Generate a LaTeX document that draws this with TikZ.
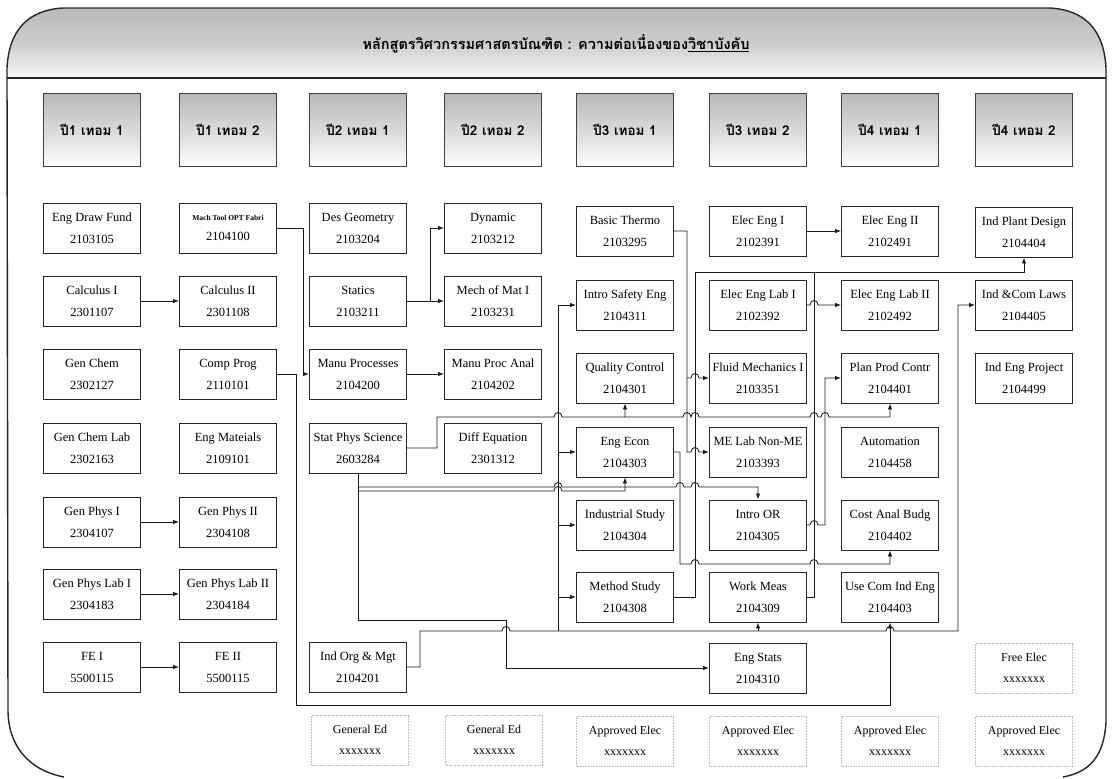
\documentclass[tikz,border=0pt]{standalone}
\usepackage{fontspec}
\setmainfont{Liberation Serif}
\newfontfamily\thaifont[Script=Thai]{Loma}
\usetikzlibrary{arrows.meta}
% small upward bump where a horizontal line crosses a vertical one
\newcommand\hopup[2]{-- ({#1-4},#2) .. controls ({#1-4},{#2-6}) and ({#1+4},{#2-6}) .. ({#1+4},#2)}
\begin{document}
\begin{tikzpicture}[x=1pt,y=-1pt,
  frame/.style={line width=1.4pt,black!85},
  hdr/.style={draw=black!75,line width=0.9pt,top color=gray!55,bottom color=white,
    middle color=gray!30,minimum width=97pt,minimum height=73pt,inner sep=0pt,
    font=\thaifont\bfseries\fontsize{13.5}{16}\selectfont},
  course/.style={draw=black!85,line width=0.9pt,fill=white,minimum width=97pt,
    minimum height=50pt,inner sep=0pt,align=center,font=\fontsize{12.5}{22}\selectfont},
  elective/.style={draw=gray!55,densely dotted,line width=0.6pt,minimum width=97pt,
    minimum height=50pt,inner sep=0pt,align=center,font=\fontsize{12}{21}\selectfont},
  conn/.style={line width=0.85pt,black!90},
  arr/.style={conn,-{Latex[length=6pt,width=4.5pt]}}]
\useasboundingbox (0,0) rectangle (1112,779);

% title band
\fill[top color=gray!55,bottom color=gray!5,middle color=gray!40]
  (7,78) -- (7,68) .. controls (9,30) and (28,10) .. (63,8) -- (1050,8)
  .. controls (1085,10) and (1104,30) .. (1106,68) -- (1106,78) -- cycle;
\draw[frame] (64,777) .. controls (28,770) and (8,745) .. (8,710) -- (7,68)
  .. controls (9,30) and (28,10) .. (63,8) -- (1050,8)
  .. controls (1085,10) and (1104,30) .. (1106,68) -- (1106,722)
  .. controls (1104,756) and (1090,772) .. (1063,777);
\draw[frame] (7,78) -- (1106,78);
\node[font=\thaifont\bfseries\fontsize{14.5}{17}\selectfont] (title) at (556,44)
  {หลักสูตรวิศวกรรมศาสตรบัณฑิต : ความต่อเนื่องของ\underline{วิชาบังคับ}};

% semester headers
\node[hdr] (h1) at (92,130) {ปี1 เทอม 1};
\node[hdr] (h2) at (228,130) {ปี1 เทอม 2};
\node[hdr] (h3) at (358,130) {ปี2 เทอม 1};
\node[hdr] (h4) at (493,130) {ปี2 เทอม 2};
\node[hdr] (h5) at (625,130) {ปี3 เทอม 1};
\node[hdr] (h6) at (758,130) {ปี3 เทอม 2};
\node[hdr] (h7) at (890,130) {ปี4 เทอม 1};
\node[hdr] (h8) at (1024,130) {ปี4 เทอม 2};

% year 1
\node[course] (engdraw) at (92,228) {Eng Draw Fund\\2103105};
\node[course] (calc1) at (92,301) {Calculus I\\2301107};
\node[course] (genchem) at (92,374) {Gen Chem\\2302127};
\node[course] (genchemlab) at (92,448) {Gen Chem Lab\\2302163};
\node[course] (genphys1) at (92,522) {Gen Phys I\\2304107};
\node[course] (genphyslab1) at (92,594) {Gen Phys Lab I\\2304183};
\node[course] (fe1) at (92,667) {FE I\\5500115};
\node[course] (mach) at (228,228) {{\bfseries\fontsize{7.5}{9}\selectfont Mach Tool OPT Fabri}\\[-2pt]2104100};
\node[course] (calc2) at (228,301) {Calculus II\\2301108};
\node[course] (compprog) at (228,374) {Comp Prog\\2110101};
\node[course] (engmat) at (228,448) {Eng Mateials\\2109101};
\node[course] (genphys2) at (228,522) {Gen Phys II\\2304108};
\node[course] (genphyslab2) at (228,594) {Gen Phys Lab II\\2304184};
\node[course] (fe2) at (228,667) {FE II\\5500115};

% year 2
\node[course] (desgeo) at (358,228) {Des Geometry\\2103204};
\node[course] (statics) at (358,301) {Statics\\2103211};
\node[course] (manu) at (358,374) {Manu Processes\\2104200};
\node[course] (statphys) at (358,448) {Stat Phys Science\\2603284};
\node[course] (indorg) at (358,667) {Ind Org \& Mgt\\2104201};
\node[course] (dynamic) at (493,228) {Dynamic\\2103212};
\node[course] (mechmat) at (493,301) {Mech of Mat I\\2103231};
\node[course] (manuanal) at (493,374) {Manu Proc Anal\\2104202};
\node[course] (diffeq) at (493,448) {Diff Equation\\2301312};

% year 3
\node[course] (basicthermo) at (625,231) {Basic Thermo\\2103295};
\node[course] (introsafety) at (625,305) {Intro Safety Eng\\2104311};
\node[course] (quality) at (625,378) {Quality Control\\2104301};
\node[course] (engecon) at (625,452) {Eng Econ\\2104303};
\node[course] (industrial) at (625,525) {Industrial Study\\2104304};
\node[course] (method) at (625,597) {Method Study\\2104308};
\node[course] (elec1) at (758,231) {Elec Eng I\\2102391};
\node[course] (eleclab1) at (758,305) {Elec Eng Lab I\\2102392};
\node[course] (fluid) at (758,378) {Fluid Mechanics I\\2103351};
\node[course] (melab) at (758,452) {ME Lab Non-ME\\2103393};
\node[course] (introor) at (758,525) {Intro OR\\2104305};
\node[course] (workmeas) at (758,597) {Work Meas\\2104309};
\node[course] (engstats) at (758,668) {Eng Stats\\2104310};

% year 4
\node[course] (elec2) at (890,231) {Elec Eng II\\2102491};
\node[course] (eleclab2) at (890,305) {Elec Eng Lab II\\2102492};
\node[course] (planprod) at (890,378) {Plan Prod Contr\\2104401};
\node[course] (automation) at (890,452) {Automation\\2104458};
\node[course] (costanal) at (890,525) {Cost Anal Budg\\2104402};
\node[course] (usecom) at (890,597) {Use Com Ind Eng\\2104403};
\node[course] (ipd) at (1024,232) {Ind Plant Design\\2104404};
\node[course] (indcom) at (1024,305) {Ind \&Com Laws\\2104405};
\node[course] (indengproj) at (1024,378) {Ind Eng Project\\2104499};

% electives
\node[elective] (freeelec) at (1024,668) {Free Elec\\xxxxxxx};
\node[elective] (gened1) at (360,740) {General Ed\\xxxxxxx};
\node[elective] (gened2) at (494,740) {General Ed\\xxxxxxx};
\node[elective] (appr1) at (625,741) {Approved Elec\\xxxxxxx};
\node[elective] (appr2) at (758,741) {Approved Elec\\xxxxxxx};
\node[elective] (appr3) at (890,741) {Approved Elec\\xxxxxxx};
\node[elective] (appr4) at (1024,741) {Approved Elec\\xxxxxxx};

% straight prerequisites
\draw[arr] (calc1.east) -- (calc2.west);
\draw[arr] (genphys1.east) -- (genphys2.west);
\draw[arr] (genphyslab1.east) -- (genphyslab2.west);
\draw[arr] (fe1.east) -- (fe2.west);
\draw[arr] (manu.east) -- (manuanal.west);
\draw[arr] (elec1.east) -- (elec2.west);
\draw[arr] (mach.east) -- ++(26.5,0) |- (manu.west);
\draw[arr] (statics.east) -- ++(23,0) |- (dynamic.west);
\draw[arr] (statics.east) -- (mechmat.west);

% Comp Prog -> Use Com Ind Eng along the bottom
\draw[arr] (compprog.east) -- (296,374) -- (296,705) -- (890,705) -- (usecom.south);

% Stat Phys Science
\coordinate (qj) at (625,417);
\draw[arr] (statphys.east) -- (437,448) -- (437,417) \hopup{558}{417} -- (qj) -- (quality.south);
\draw[arr] (qj) \hopup{687}{417} \hopup{695}{417} \hopup{814}{417} \hopup{825}{417}
  -- (890,417) -- (planprod.south);
\draw[arr] (statphys.south) -- (358,620) -- (506,620) -- (506,668) -- (engstats.west);
\draw[arr] (358,487) \hopup{558}{487} \hopup{680}{487} \hopup{695}{487} -- (758,487) -- (introor.north);
\draw[arr] (358,491) \hopup{558}{491} -- (625,491) -- (engecon.south);

% Ind Org & Mgt
\draw[arr] (indorg.east) -- (420,667) -- (420,631) \hopup{506}{631} -- (758,631)
  \hopup{890}{631} -- (958,631) -- (958,305) -- (indcom.west);
\draw[arr] (558,631) -- (558,305) -- (introsafety.west);
\draw[arr] (558,452) -- (engecon.west);
\draw[arr] (558,525) -- (industrial.west);
\draw[arr] (558,597) -- (method.west);
\draw[arr] (758,631) -- (workmeas.south);

% Basic Thermo
\draw[arr] (basicthermo.east) -- (687,231) -- (687,452) \hopup{695}{452} -- (melab.west);
\draw[arr] (687,378) \hopup{695}{378} -- (fluid.west);

% Method Study, Work Meas -> Ind Plant Design
\draw[arr] (method.east) -- (695,597) -- (695,272) -- (1024,272) -- (ipd.south);
\draw[conn] (workmeas.east) -- (814,597) -- (814,272);

% Intro OR -> Plan Prod Contr
\draw[arr] (introor.east) \hopup{814}{525} -- (825,525) -- (825,378) -- (planprod.west);

% Eng Econ -> Cost Anal Budg
\draw[arr] (engecon.east) -- (680,452) -- (680,564) \hopup{695}{564} \hopup{814}{564}
  -- (890,564) -- (costanal.south);

% Elec Eng Lab I -> Elec Eng Lab II
\draw[arr] (eleclab1.east) \hopup{814}{305} -- (eleclab2.west);
\end{tikzpicture}
\end{document}
